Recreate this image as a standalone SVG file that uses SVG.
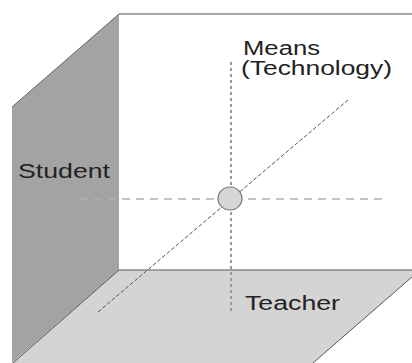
<svg xmlns="http://www.w3.org/2000/svg" width="412" height="363" viewBox="0 0 412 363">
<style>
.lbl{font-family:"Liberation Sans",Arial,sans-serif;font-size:20px;fill:#222}
.edge{stroke:#8a8a8a;stroke-width:1.5;fill:none}
</style>
<rect width="412" height="363" fill="#fff"/>
<g id="back-wall">
<line class="edge" x1="119" y1="14" x2="412" y2="14"/>
</g>
<g id="student-wall">
<polygon points="12,107 119,14 119,270 12,363" fill="#a3a3a3"/>
<line x1="12" y1="107" x2="119" y2="14" stroke="#666" stroke-width="1"/>
<text class="lbl" x="18" y="178" font-size="21" textLength="92" lengthAdjust="spacingAndGlyphs">Student</text>
</g>
<g id="teacher-floor">
<polygon points="119,270 420,270 313,363 12,363" fill="#d4d4d4"/>
<line class="edge" x1="119" y1="270" x2="412" y2="270"/>
<line x1="119" y1="270" x2="13" y2="363" stroke="#555" stroke-width="1"/>
<line x1="420" y1="270" x2="313" y2="363" stroke="#555" stroke-width="1"/>
<text class="lbl" x="245" y="310" font-size="21" textLength="95" lengthAdjust="spacingAndGlyphs">Teacher</text>
</g>
<g id="connectors">
<line x1="80" y1="199" x2="386" y2="199" stroke="#b0b0b0" stroke-width="1.5" stroke-dasharray="8,6"/>
<line x1="231" y1="62" x2="231" y2="312" stroke="#999" stroke-width="2" stroke-dasharray="3,3"/>
<line x1="98" y1="312" x2="348" y2="100" stroke="#555" stroke-width="1" stroke-dasharray="4,2"/>
</g>
<g id="means">
<text class="lbl" x="243" y="55" font-size="18.5" textLength="77" lengthAdjust="spacingAndGlyphs">Means</text>
<text class="lbl" x="241" y="75" font-size="18.5" textLength="151" lengthAdjust="spacingAndGlyphs">(Technology)</text>
</g>
<g id="center">
<ellipse cx="230" cy="198.5" rx="12" ry="11.5" fill="#d6d6d6" stroke="#777" stroke-width="1.2"/>
</g>
</svg>
